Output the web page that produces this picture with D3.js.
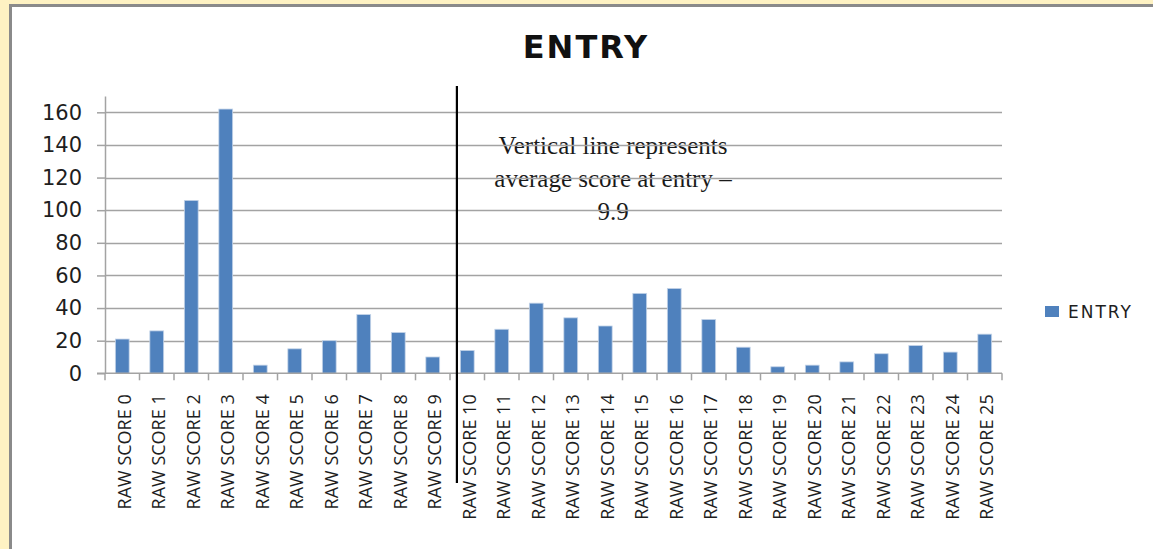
<!DOCTYPE html>
<html>
<head>
<meta charset="UTF-8">
<title>ENTRY</title>
<script src="https://d3js.org/d3.v7.min.js"></script>
<style>
  body { margin: 0; background: #fef2c3; }
  svg { display: block; }
  .grid line { stroke: #a3a3a3; stroke-width: 1.3px; }
  .yaxis text { font: 21px "DejaVu Sans", sans-serif; fill: #1e1e1e; }
  .xaxis text { font: 18px "Open Sans", sans-serif; fill: #1e1e1e; }
</style>
</head>
<body>
<script>
// data
var categories = ["RAW SCORE 0", "RAW SCORE 1", "RAW SCORE 2", "RAW SCORE 3", "RAW SCORE 4",
  "RAW SCORE 5", "RAW SCORE 6", "RAW SCORE 7", "RAW SCORE 8", "RAW SCORE 9", "RAW SCORE 10",
  "RAW SCORE 11", "RAW SCORE 12", "RAW SCORE 13", "RAW SCORE 14", "RAW SCORE 15", "RAW SCORE 16",
  "RAW SCORE 17", "RAW SCORE 18", "RAW SCORE 19", "RAW SCORE 20", "RAW SCORE 21", "RAW SCORE 22",
  "RAW SCORE 23", "RAW SCORE 24", "RAW SCORE 25"];
var entry = [21, 26, 106, 162, 5, 15, 20, 36, 25, 10, 14, 27, 43, 34, 29, 49, 52, 33, 16, 4, 5, 7, 12, 17, 13, 24];
var yTicks = [0, 20, 40, 60, 80, 100, 120, 140, 160];
var lineAtScore = 9.7;   // where the marker line sits on the score axis
var noteLines = ["Vertical line represents", "average score at entry \u2013", "9.9"];
var seriesName = "ENTRY";
var title = "ENTRY";

var W = 1153, H = 549;
var svg = d3.select("body").append("svg").attr("width", W).attr("height", H);

// chart frame
svg.append("rect")
  .attr("x", 10.5).attr("y", 5.5)
  .attr("width", W + 20).attr("height", H + 20)
  .attr("fill", "#fff").attr("stroke", "#8a8a8a").attr("stroke-width", 3);

var plotL = 105, plotR = 1002, plotT = 96, plotB = 373.3;

var x = d3.scaleBand().domain(categories).range([plotL, plotR]).paddingInner(0.6).paddingOuter(0.3);
var step = x.step();
var y = d3.scaleLinear().domain([0, 170]).range([plotB, plotT]);

// title
svg.append("text")
  .attr("x", 586).attr("y", 58)
  .attr("text-anchor", "middle")
  .style("font", "bold 32px 'DejaVu Sans', sans-serif")
  .style("letter-spacing", "2px")
  .attr("fill", "#111")
  .text(title);

// note text (behind grid)
var note = svg.append("text")
  .attr("text-anchor", "middle")
  .style("font", "25px 'Liberation Serif', serif")
  .attr("fill", "#1a1a1a");
noteLines.forEach(function (t, i) {
  note.append("tspan").attr("x", 613).attr("y", 154 + i * 33).text(t);
});

// gridlines
svg.append("g").attr("class", "grid")
  .selectAll("line").data(yTicks.slice(1)).enter().append("line")
  .attr("x1", plotL).attr("x2", plotR)
  .attr("y1", d => Math.round(y(d)) + 0.5).attr("y2", d => Math.round(y(d)) + 0.5);

// y axis
var yAxis = svg.append("g").attr("class", "yaxis")
  .attr("transform", "translate(" + plotL + ",0)")
  .call(d3.axisLeft(y).tickValues(yTicks).tickSize(8).tickPadding(15).tickSizeOuter(0));
yAxis.selectAll("line, path").attr("stroke", "#a3a3a3").attr("stroke-width", 1.5);

// bars
svg.append("g").selectAll("rect").data(entry).enter().append("rect")
  .attr("x", (d, i) => x(categories[i]))
  .attr("width", x.bandwidth())
  .attr("y", d => y(d))
  .attr("height", d => y(0) - y(d))
  .attr("fill", "#4f81bd")
  .attr("stroke", "#c3d3e8").attr("stroke-width", 0.8);

// x axis with ticks at category boundaries
var xAxis = svg.append("g").attr("class", "xaxis").attr("transform", "translate(0," + plotB + ")");
xAxis.append("line").attr("x1", plotL - 8).attr("x2", plotR).attr("stroke", "#a3a3a3").attr("stroke-width", 1.5);
xAxis.selectAll(".tk").data(d3.range(categories.length + 1)).enter().append("line")
  .attr("x1", i => plotL + i * step).attr("x2", i => plotL + i * step)
  .attr("y1", 0).attr("y2", 7)
  .attr("stroke", "#a3a3a3").attr("stroke-width", 1.5);
xAxis.selectAll("text").data(categories).enter().append("text")
  .attr("transform", d => "translate(" + (x(d) + x.bandwidth() / 2 + 2) + ",21) rotate(-90)")
  .attr("dy", "0.35em")
  .attr("text-anchor", "end")
  .text(d => d);

// marker line
var lx = plotL + (lineAtScore + 0.5) * step;
svg.append("line")
  .attr("x1", lx).attr("x2", lx)
  .attr("y1", 86).attr("y2", 483)
  .attr("stroke", "#000").attr("stroke-width", 2.2);

// legend
var lg = svg.append("g").attr("transform", "translate(1045,306)");
lg.append("rect").attr("width", 14).attr("height", 11).attr("fill", "#4f81bd");
lg.append("text").attr("x", 23).attr("y", 11.5)
  .style("font", "17px 'DejaVu Sans', sans-serif")
  .style("letter-spacing", "2px")
  .attr("fill", "#1e1e1e")
  .text(seriesName);
</script>
</body>
</html>
